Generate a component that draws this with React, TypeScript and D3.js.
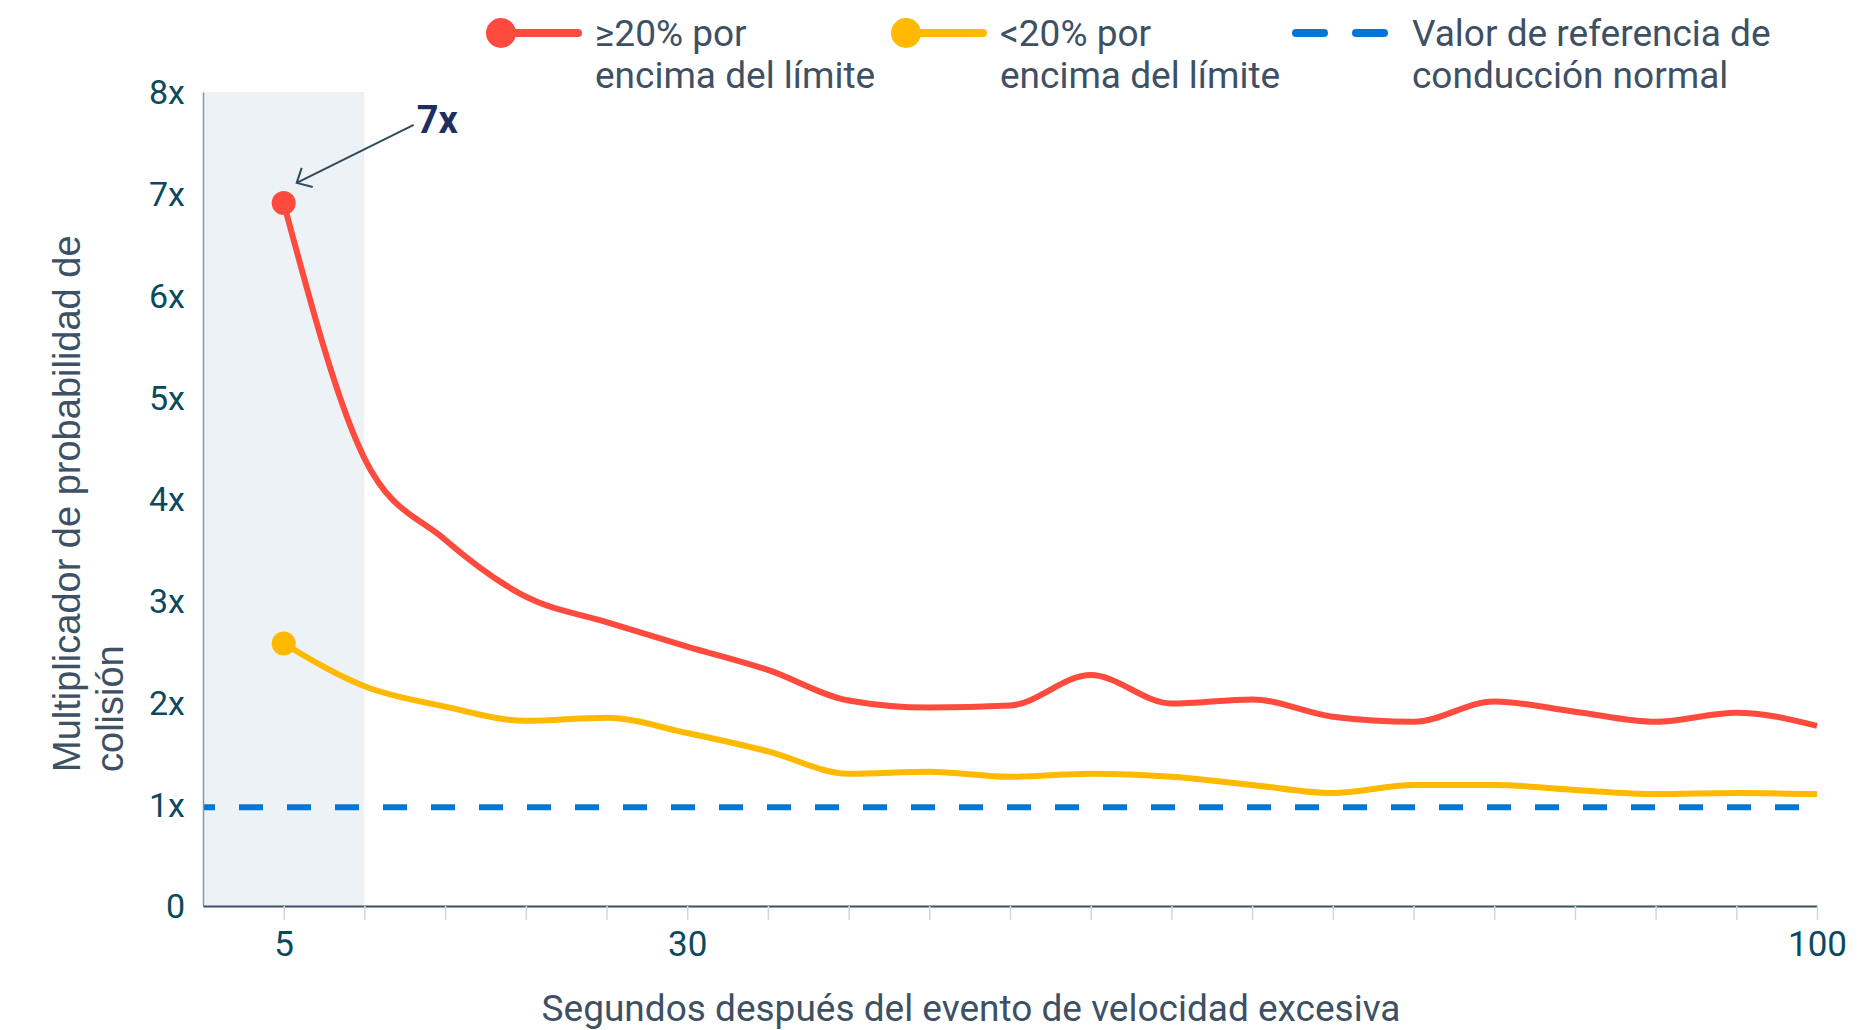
// React
import { useEffect, useRef } from 'react';

// Installed Packages
import * as d3 from 'd3';

// seconds after the speeding event
const seconds = [5, 10, 15, 20, 25, 30, 35, 40, 45, 50, 55, 60, 65, 70, 75, 80, 85, 90, 95, 100];
// crash likelihood multiplier, >=20% over the limit
const over20 = [6.91, 4.4, 3.6, 3.04, 2.79, 2.55, 2.32, 2.02, 1.95, 1.97, 2.27, 1.99, 2.03, 1.86, 1.81, 2.01, 1.91, 1.81, 1.9, 1.77];
// crash likelihood multiplier, <20% over the limit
const under20 = [2.58, 2.16, 1.96, 1.82, 1.85, 1.7, 1.52, 1.3, 1.32, 1.27, 1.3, 1.27, 1.19, 1.11, 1.19, 1.19, 1.14, 1.1, 1.11, 1.1];
const baseline = 0.97;
const highlightRange = [0, 10];
const yTicks = [0, 1, 2, 3, 4, 5, 6, 7, 8];
const xLabels = [5, 30, 100];

const legendItems = [
    { kind: 'dot', color: '#ff4b3e', lines: ['≥20% por', 'encima del límite'] },
    { kind: 'dot', color: '#ffb900', lines: ['<20% por', 'encima del límite'] },
    { kind: 'dash', color: '#0077d6', lines: ['Valor de referencia de', 'conducción normal'] },
];

export default function App() {
    let ref = useRef<SVGSVGElement>(null);

    useEffect(() => {
        const svg = d3.select(ref.current);
        svg.selectAll('*').remove();

        const textColor = '#3e5064';
        const tickColor = '#0b4a5d';
        const font = 'Roboto, sans-serif';

        const x = d3.scaleLinear().domain([0, 100]).range([203, 1817]);
        const y = d3.scaleLinear().domain([0, 8]).range([906, 92]);

        // highlighted band
        svg.append('rect')
            .attr('x', x(highlightRange[0]))
            .attr('y', y(8))
            .attr('width', x(highlightRange[1]) - x(highlightRange[0]))
            .attr('height', y(0) - y(8))
            .attr('fill', '#edf2f7');

        // reference line
        svg.append('line')
            .attr('x1', x(0)).attr('x2', x(100))
            .attr('y1', y(baseline)).attr('y2', y(baseline))
            .attr('stroke', '#0077d6')
            .attr('stroke-width', 6)
            .attr('stroke-dasharray', '24 24')
            .attr('stroke-dashoffset', 12);

        // Y axis
        const yAxis = svg.append('g')
            .attr('transform', `translate(${x(0)},0)`)
            .call(d3.axisLeft(y).tickValues(yTicks).tickSize(0).tickSizeOuter(0)
                .tickFormat(d => (d === 0 ? '0' : `${d}x`)));
        yAxis.select('.domain').attr('stroke', '#8796a5').attr('stroke-width', 1.5);
        yAxis.selectAll('text')
            .attr('x', -18)
            .attr('dy', '0.35em')
            .attr('fill', tickColor)
            .style('font-family', font)
            .style('font-size', '34px');

        // X axis
        const xAxis = svg.append('g')
            .attr('transform', `translate(0,${y(0)})`)
            .call(d3.axisBottom(x).tickValues(seconds).tickSize(14).tickSizeOuter(0)
                .tickFormat(d => (xLabels.includes(d as number) ? `${d}` : '')));
        xAxis.select('.domain').attr('stroke', '#3c5065').attr('stroke-width', 2);
        xAxis.selectAll('.tick line').attr('stroke', '#d3d8de').attr('stroke-width', 1.5);
        xAxis.selectAll('text')
            .attr('y', 38)
            .attr('dy', '0.35em')
            .attr('fill', tickColor)
            .style('font-family', font)
            .style('font-size', '35px');

        // Lines
        const line = d3.line<number>()
            .x((d, i) => x(seconds[i]))
            .y(d => y(d))
            .curve(d3.curveMonotoneX);

        [{ data: under20, color: '#ffb900' }, { data: over20, color: '#ff4b3e' }].forEach(s => {
            svg.append('path')
                .attr('d', line(s.data))
                .attr('fill', 'none')
                .attr('stroke', s.color)
                .attr('stroke-width', 6)
                .attr('stroke-linejoin', 'round');
            svg.append('circle')
                .attr('cx', x(seconds[0]))
                .attr('cy', y(s.data[0]))
                .attr('r', 12)
                .attr('fill', s.color);
        });

        // Annotation
        const px = x(seconds[0]);
        const py = y(over20[0]);
        const tipX = px + 13, tipY = py - 20;
        svg.append('line')
            .attr('x1', px + 130).attr('y1', py - 78)
            .attr('x2', tipX).attr('y2', tipY)
            .attr('stroke', '#2e4a5e').attr('stroke-width', 2);
        svg.append('path')
            .attr('d', `M${tipX + 5},${tipY - 15} L${tipX},${tipY} L${tipX + 16},${tipY + 4}`)
            .attr('fill', 'none')
            .attr('stroke', '#2e4a5e').attr('stroke-width', 2);
        svg.append('text')
            .attr('x', px + 133).attr('y', py - 70)
            .attr('fill', '#1e2f5e')
            .style('font-family', font)
            .style('font-weight', 700)
            .style('font-size', '38px')
            .text('7x');

        // Legend
        const legendX = [501, 906, 1292];
        legendItems.forEach((item, i) => {
            const g = svg.append('g').attr('transform', `translate(${legendX[i]},33)`);
            let textX = 94;
            if (item.kind === 'dot') {
                g.append('line')
                    .attr('x1', 0).attr('x2', 77).attr('y1', 0).attr('y2', 0)
                    .attr('stroke', item.color).attr('stroke-width', 8).attr('stroke-linecap', 'round');
                g.append('circle').attr('r', 15).attr('fill', item.color);
            } else {
                [0, 60].forEach(dx => {
                    g.append('line')
                        .attr('x1', dx + 4).attr('x2', dx + 32).attr('y1', 0).attr('y2', 0)
                        .attr('stroke', item.color).attr('stroke-width', 8).attr('stroke-linecap', 'round');
                });
                textX = 120;
            }
            item.lines.forEach((t, j) => {
                g.append('text')
                    .attr('x', textX)
                    .attr('y', 13 + j * 42)
                    .attr('fill', textColor)
                    .style('font-family', font)
                    .style('font-size', '37px')
                    .text(t);
            });
        });

        // Axis titles
        svg.append('text')
            .attr('x', 971).attr('y', 1021)
            .attr('text-anchor', 'middle')
            .attr('fill', textColor)
            .style('font-family', font)
            .style('font-size', '37px')
            .text('Segundos después del evento de velocidad excesiva');

        ['Multiplicador de probabilidad de', 'colisión'].forEach((t, j) => {
            svg.append('text')
                .attr('transform', `translate(${80 + j * 43},772) rotate(-90)`)
                .attr('fill', textColor)
                .style('font-family', '"Liberation Sans", Arial, sans-serif')
                .style('font-size', '38px')
                .text(t);
        });
    }, []);

    return (
        <div style={{ position: 'absolute', left: 0, top: 0 }}>
            <svg ref={ref} width={1876} height={1030} style={{ display: 'block', background: '#fff' }} />
        </div>
    );
}
